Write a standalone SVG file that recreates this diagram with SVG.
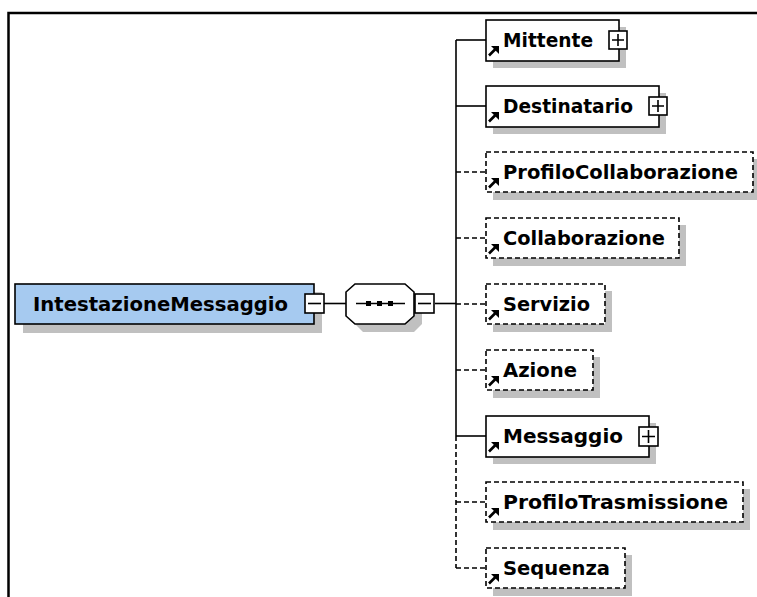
<svg xmlns="http://www.w3.org/2000/svg" width="757" height="597" viewBox="0 0 757 597">
<defs>
<style>
.frame{stroke:#000;stroke-width:2.5;fill:none}
.shadow{fill:#c0c0c0}
.box{fill:#fff;stroke:#000;stroke-width:1.6}
.opt{fill:#fff;stroke:#000;stroke-width:1.6;stroke-dasharray:5,3}
.main{fill:#a6caf0;stroke:#000;stroke-width:1.6}
.lbl{font-family:"DejaVu Sans","Liberation Sans",sans-serif;font-weight:bold;font-size:19.5px;fill:#000}
.ln{stroke:#000;stroke-width:1.6;fill:none}
.dl{stroke:#000;stroke-width:1.6;fill:none;stroke-dasharray:5,3}
.sq{fill:#fff;stroke:#000;stroke-width:1.6}
</style>
<g id="ref">
<path d="M3,14.5 L10,7.5" stroke="#000" stroke-width="2.6"/>
<polygon points="5,5 13,5 13,13" fill="#000"/>
</g>
</defs>
<rect width="757" height="597" fill="#fff"/>
<path class="frame" d="M8.5,597 L8.5,13 L757,13"/>

<g id="connectors">
<line class="ln" x1="324" y1="303.5" x2="346" y2="303.5"/>
<line class="ln" x1="435" y1="303.5" x2="456" y2="303.5"/>
<line class="ln" x1="456" y1="40" x2="456" y2="436"/>
<line class="dl" x1="456" y1="436" x2="456" y2="568"/>
<line class="ln" x1="456" y1="40" x2="486" y2="40"/>
<line class="ln" x1="456" y1="106" x2="486" y2="106"/>
<line class="dl" x1="456" y1="172" x2="486" y2="172"/>
<line class="dl" x1="456" y1="238" x2="486" y2="238"/>
<line class="dl" x1="456" y1="304" x2="486" y2="304"/>
<line class="dl" x1="456" y1="370" x2="486" y2="370"/>
<line class="ln" x1="456" y1="436" x2="486" y2="436"/>
<line class="dl" x1="456" y1="502" x2="486" y2="502"/>
<line class="dl" x1="456" y1="568" x2="486" y2="568"/>
</g>

<g id="IntestazioneMessaggio">
<rect class="shadow" x="23" y="292" width="299" height="41"/>
<rect class="main" x="15" y="284" width="299" height="40"/>
<text class="lbl" x="33" y="311" textLength="255" lengthAdjust="spacingAndGlyphs">IntestazioneMessaggio</text>
<rect class="sq" x="305" y="294" width="19" height="19"/>
<line class="ln" x1="308" y1="303.5" x2="321" y2="303.5"/>
</g>

<g id="sequence">
<polygon class="shadow" points="363,292 414,292 422,300 422,324 414,332 363,332 355,324 355,300"/>
<polygon class="box" points="355,284 405,284 414,292 414,316 405,324 355,324 346,316 346,292"/>
<line class="ln" x1="356" y1="303.5" x2="405" y2="303.5"/>
<rect x="366" y="301" width="5" height="5" fill="#000"/>
<rect x="377" y="301" width="5" height="5" fill="#000"/>
<rect x="388" y="301" width="5" height="5" fill="#000"/>
<rect class="sq" x="415" y="294" width="19" height="19"/>
<line class="ln" x1="418" y1="303.5" x2="431" y2="303.5"/>
</g>

<g id="Mittente">
<rect class="shadow" x="493" y="27" width="133" height="41"/>
<rect class="box" x="486" y="20" width="133" height="41"/>
<use href="#ref" x="486" y="41"/>
<text class="lbl" x="503" y="47" textLength="90" lengthAdjust="spacingAndGlyphs">Mittente</text>
<rect class="sq" x="609" y="31" width="18" height="18"/>
<path class="ln" d="M612,40 H624 M618,34 V46"/>
</g>

<g id="Destinatario">
<rect class="shadow" x="493" y="93" width="173" height="41"/>
<rect class="box" x="486" y="86" width="173" height="41"/>
<use href="#ref" x="486" y="107"/>
<text class="lbl" x="503" y="113" textLength="130" lengthAdjust="spacingAndGlyphs">Destinatario</text>
<rect class="sq" x="649" y="97" width="18" height="18"/>
<path class="ln" d="M652,106 H664 M658,100 V112"/>
</g>

<g id="ProfiloCollaborazione">
<rect class="shadow" x="493" y="159" width="267" height="41"/>
<rect class="opt" x="486" y="152" width="267" height="40"/>
<use href="#ref" x="486" y="173"/>
<text class="lbl" x="503" y="179" textLength="235" lengthAdjust="spacingAndGlyphs">ProfiloCollaborazione</text>
</g>

<g id="Collaborazione">
<rect class="shadow" x="493" y="225" width="193" height="41"/>
<rect class="opt" x="486" y="218" width="193" height="40"/>
<use href="#ref" x="486" y="239"/>
<text class="lbl" x="503" y="245" textLength="162" lengthAdjust="spacingAndGlyphs">Collaborazione</text>
</g>

<g id="Servizio">
<rect class="shadow" x="493" y="291" width="119" height="41"/>
<rect class="opt" x="486" y="284" width="119" height="40"/>
<use href="#ref" x="486" y="305"/>
<text class="lbl" x="503" y="311" textLength="87" lengthAdjust="spacingAndGlyphs">Servizio</text>
</g>

<g id="Azione">
<rect class="shadow" x="493" y="357" width="107" height="41"/>
<rect class="opt" x="486" y="350" width="107" height="40"/>
<use href="#ref" x="486" y="371"/>
<text class="lbl" x="503" y="377" textLength="74" lengthAdjust="spacingAndGlyphs">Azione</text>
</g>

<g id="Messaggio">
<rect class="shadow" x="493" y="423" width="163" height="41"/>
<rect class="box" x="486" y="416" width="163" height="41"/>
<use href="#ref" x="486" y="437"/>
<text class="lbl" x="503" y="443" textLength="120" lengthAdjust="spacingAndGlyphs">Messaggio</text>
<rect class="sq" x="639" y="427" width="19" height="19"/>
<path class="ln" d="M642,436.5 H655 M648.5,430 V443"/>
</g>

<g id="ProfiloTrasmissione">
<rect class="shadow" x="493" y="489" width="257" height="41"/>
<rect class="opt" x="486" y="482" width="257" height="40"/>
<use href="#ref" x="486" y="503"/>
<text class="lbl" x="503" y="509" textLength="225" lengthAdjust="spacingAndGlyphs">ProfiloTrasmissione</text>
</g>

<g id="Sequenza">
<rect class="shadow" x="493" y="555" width="139" height="41"/>
<rect class="opt" x="486" y="548" width="139" height="40"/>
<use href="#ref" x="486" y="569"/>
<text class="lbl" x="503" y="575" textLength="107" lengthAdjust="spacingAndGlyphs">Sequenza</text>
</g>
</svg>
